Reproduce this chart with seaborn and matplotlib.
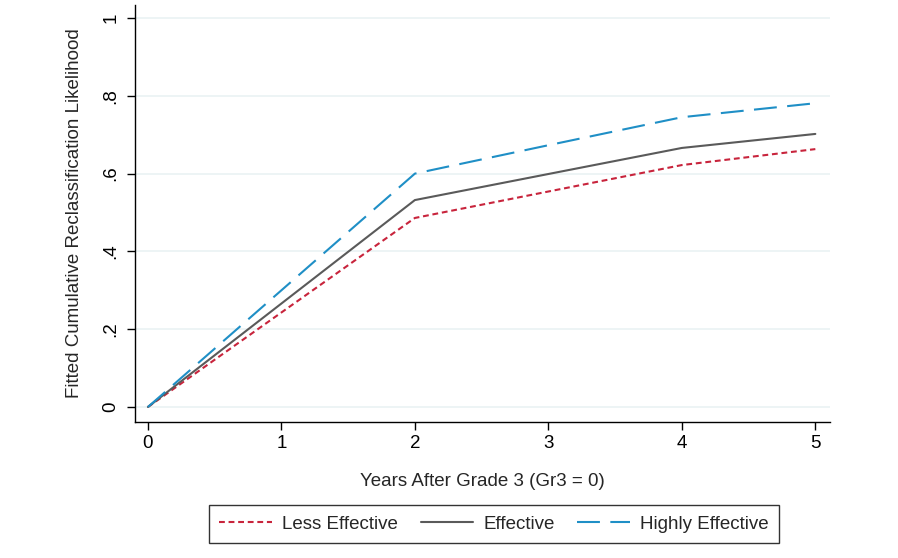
import numpy as np
import pandas as pd
import matplotlib
matplotlib.use("Agg")
import matplotlib.pyplot as plt
import seaborn as sns

years = [0, 1, 2, 3, 4, 5]
less_effective = [0, 0.243, 0.486, 0.554, 0.622, 0.663]
effective = [0, 0.266, 0.532, 0.599, 0.666, 0.702]
highly_effective = [0, 0.300, 0.600, 0.673, 0.745, 0.781]

groups = ["Less Effective", "Effective", "Highly Effective"]
colors = ["#c8243c", "#5a5a5a", "#1f8fc6"]
dashes = [(2.8, 1.8), "", (11, 5)]

sns.set_style("white")
plt.rcParams["font.family"] = ["Liberation Sans", "DejaVu Sans"]

data = pd.DataFrame({
    "year": years * 3,
    "likelihood": less_effective + effective + highly_effective,
    "group": np.repeat(groups, len(years)),
})

fig = plt.figure(figsize=(8.98, 5.58), dpi=100)
ax = fig.add_axes([0.1503, 0.2437, 0.774, 0.747])

sns.lineplot(data=data, x="year", y="likelihood", hue="group", style="group",
             hue_order=groups, style_order=groups, palette=colors,
             dashes=dashes, linewidth=1.5, ax=ax, legend=False)

ax.set_xlim(-0.097, 5.11)
ax.set_ylim(-0.0386, 1.033)
ax.set_xticks(years)
ax.set_yticks([0, 0.2, 0.4, 0.6, 0.8, 1])
ax.set_yticklabels(["0", ".2", ".4", ".6", ".8", "1"], rotation=90, va="center")
ax.tick_params(axis="both", direction="out", length=6, width=1, labelsize=13.5,
               colors="black", left=True, bottom=True)
ax.tick_params(axis="y", pad=5)
ax.yaxis.grid(True, color="#eaf2f3", linewidth=1.2)
ax.set_axisbelow(True)
sns.despine(ax=ax)
for s in ["left", "bottom"]:
    ax.spines[s].set_color("black")
    ax.spines[s].set_linewidth(1.0)

ax.set_xlabel("Years After Grade 3 (Gr3 = 0)", fontsize=13.5, labelpad=15)
ax.set_ylabel("Fitted Cumulative Reclassification Likelihood", fontsize=13.5, labelpad=14)

handles = [plt.Line2D([], [], color=c, linewidth=1.5,
                      linestyle=(0, d) if d else "-")
           for c, d in zip(colors, dashes)]
leg = fig.legend(handles, groups, loc="center", bbox_to_anchor=(494 / 898, 1 - 524 / 558),
                 ncol=3, frameon=True, fancybox=False, fontsize=13.5, handlelength=2.8,
                 handletextpad=0.55, columnspacing=1.2, borderpad=0.55, edgecolor="black")
leg.get_frame().set_linewidth(1.0)

fig.savefig("out.png", dpi=100)
